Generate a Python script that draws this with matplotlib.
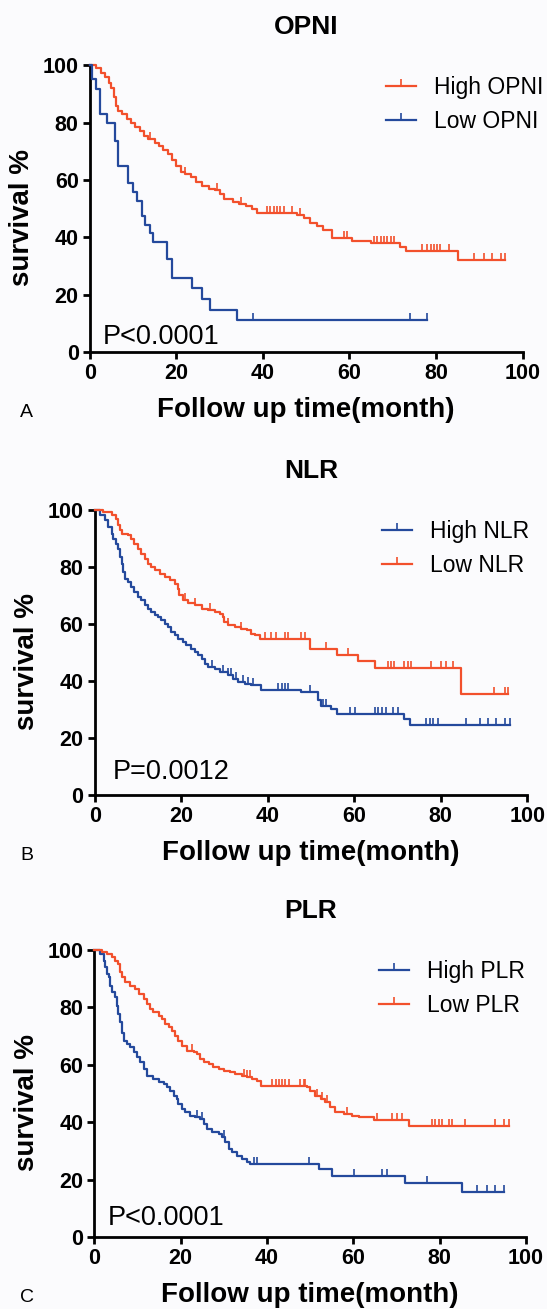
import numpy as np
import matplotlib
matplotlib.use("Agg")
import matplotlib.pyplot as plt
from matplotlib.lines import Line2D

plt.rcParams['font.family'] = ['Liberation Sans', 'DejaVu Sans']

RED = '#f2502c'
BLUE = '#24499c'

# ---- Panel A: OPNI ----
opni_high_t = [0, 1.5, 2.5, 3.5, 4.5, 5, 5.5, 6, 6.5, 7.5, 8.5, 9.5, 10.5, 11.5, 12.5, 13.5, 15, 16, 17, 18,
               19, 20, 21, 22, 23.5, 24.5, 26, 27.5, 29, 30, 31, 33, 34.5, 36, 37.5, 38.6, 47.9, 49.4, 51, 52.5,
               54, 56, 60.6, 64.9, 71.8, 73, 85]
opni_high_s = [100, 99, 97.5, 96, 94, 92, 89, 86, 84, 83, 81.5, 80, 78.5, 77, 75.5, 74.5, 73, 72, 70.5, 69,
               67, 65, 63, 62, 61, 59.5, 58, 57, 56.5, 55, 53.5, 52.5, 51.5, 51, 50, 48.5, 47.9, 46.8, 45, 43.9,
               42.7, 39.8, 38.8, 38, 36.8, 35.3, 32.2]
opni_high_end = 96
opni_high_cens = [14, 22, 29.5, 35, 40.9, 41.7, 42.5, 43.2, 44, 44.8, 46.7, 48.6, 58.7, 59.5, 65.6, 66.4,
                  67.2, 68, 68.8, 69.6, 70.3, 76.8, 78, 78.8, 79.5, 80.3, 81, 83, 88.8, 91.1, 93, 95, 96]

opni_low_t = [0, 0.6, 1.5, 2.3, 3.9, 5.8, 6.6, 8.9, 10, 10.8, 12, 12.7, 13.9, 14.7, 17.8, 18.9, 23.6, 25.9,
              27.8, 34]
opni_low_s = [100, 95.3, 91.8, 83, 80, 73.7, 65, 59, 56, 52.6, 47.4, 44.4, 41.5, 38.5, 32.5, 25.7, 22.2, 18.5,
              14.8, 11.1]
opni_low_end = 78
opni_low_cens = [37.8, 74, 78]

# ---- Panel B: NLR ----
nlr_high_t = [0, 1.2, 2.3, 3.1, 3.9, 4.2, 5, 5.4, 5.8, 6.2, 6.5, 6.9, 7.7, 8.5, 9.2, 10, 10.8, 11.6, 12.3, 13.1,
              13.9, 14.6, 15.4, 16.2, 16.9, 17.7, 18.5, 19.3, 20.4, 21.2, 22.3, 23.1, 23.9, 24.7, 25.4, 26.2,
              27.7, 28.9, 30.8, 32, 33.1, 34.7, 36.2, 38.5, 47.8, 51.6, 52.3, 54.7, 55.9, 71.6, 72.8]
nlr_high_s = [100, 98.2, 96.5, 94.2, 91.8, 90.1, 88.3, 86.5, 83.6, 81.3, 78.4, 76, 74.9, 73.1, 71.3, 69.6, 68.4,
              66.7, 65.5, 64.3, 63.2, 62.6, 61.4, 60.2, 59.1, 57.3, 56.1, 55, 53.8, 52.6, 51.5, 50.3, 49.1, 48,
              46.2, 45, 44.4, 43.3, 42.1, 40.9, 39.8, 39.2, 38.6, 36.8, 36.2, 33.5, 31.5, 30.4, 28.7, 26.9, 24.5]
nlr_high_end = 96
nlr_high_cens = [27, 29.7, 30.8, 31.6, 32.7, 34.3, 35.4, 36.6, 42.4, 43.2, 43.9, 44.7, 49.7, 52.8, 53.5, 58.9,
                 60.1, 64.7, 65.5, 66.3, 67.4, 68.9, 70.1, 76.6, 77.4, 78.2, 79.4, 85.9, 89, 90.9, 92.8, 94.8, 96]

nlr_low_t = [0, 1.9, 3.9, 5, 5.4, 5.8, 6.2, 7.7, 8.5, 9.2, 10, 10.8, 11.6, 12.3, 13.1, 13.9, 15, 16.2, 17.3,
             18.5, 19.3, 19.6, 20.4, 21.6, 23.1, 24.7, 26.2, 27.7, 28.9, 29.7, 30, 30.8, 32.4, 33.9, 35.1, 36.2,
             37, 38.1, 49.7, 55.9, 60.9, 64.7, 84.7]
nlr_low_s = [100, 99.4, 98.2, 97.1, 94.7, 93, 91.8, 91.2, 90.1, 88.3, 86.5, 84.8, 83, 81.3, 80.1, 78.9, 77.8,
             76.6, 75.4, 74.3, 72.5, 70.2, 68.4, 67.3, 66.7, 65.5, 64.9, 64.3, 63.7, 62.6, 60.8, 59.6, 59.1, 58.5,
             57.9, 56.7, 56.1, 55, 51.5, 49.1, 47, 44.8, 35.7]
nlr_low_end = 95.5
nlr_low_cens = [20.8, 23.1, 26.6, 30.8, 33.9, 39.3, 40.8, 42, 43.9, 44.7, 47.8, 48.5, 53.5, 58.6, 67.8, 68.6,
                69.3, 71.6, 72.4, 73.2, 77.8, 80.1, 81.3, 82.8, 92.4, 94.8, 95.5]

# ---- Panel C: PLR ----
plr_high_t = [0, 1.4, 2.2, 2.5, 2.9, 3.3, 3.7, 4.1, 4.9, 5.3, 5.6, 6, 6.4, 6.8, 7.6, 8.3, 9.1, 9.9, 10.7, 11.4,
              12.2, 13.7, 14.9, 16.1, 16.8, 17.6, 18.4, 19.2, 19.5, 20.3, 21.1, 22.2, 23.4, 24.6, 25.3, 26.1,
              27.3, 28.8, 29.6, 30.3, 31.1, 31.9, 33, 34.2, 35.4, 36.1, 52, 55.1, 72, 85.2]
plr_high_s = [100, 98.6, 96.3, 94, 91.6, 90.5, 87.6, 85.3, 83.5, 80.6, 77.7, 74.8, 71.2, 68.4, 67.3, 66.1, 64.4,
              62.6, 60.9, 58.6, 56.3, 55.1, 53.9, 53.4, 52.2, 51, 49.3, 48.1, 46.4, 44.7, 43.5, 42.3, 41.8, 41.2,
              39.4, 37.7, 36.5, 36, 34.8, 33.1, 30.7, 29.6, 28.4, 27.3, 26.1, 25.5, 23.8, 21.5, 18.9, 15.7]
plr_high_end = 95
plr_high_cens = [23.8, 25, 30, 36.9, 37.7, 49.7, 60.1, 66.6, 67.8, 77.1, 88.6, 91, 92.9, 95]

plr_low_t = [0, 1.8, 2.9, 4.1, 4.9, 5.6, 6, 6.4, 7.2, 8.3, 9.5, 10.3, 11.4, 12.2, 13, 13.7, 14.9, 15.7, 16.4,
             17.2, 18, 18.8, 19.5, 20.3, 21.5, 23, 23.8, 24.6, 25.3, 26.5, 27.6, 28.8, 30, 31.5, 32.7, 34.2,
             35.4, 36.5, 37.7, 38.5, 49.3, 50, 51.2, 52.4, 53.5, 54.7, 55.8, 57.8, 59.7, 61.2, 64.7, 72.8]
plr_low_s = [100, 99.2, 98.6, 97.4, 96.3, 95.1, 92.2, 90.5, 88.7, 87.6, 86.4, 84.7, 82.9, 81.2, 79.5, 78.3, 77.1,
             76, 74.2, 73.1, 71.9, 70.2, 68.4, 66.7, 65, 64.4, 63.8, 62.1, 60.9, 60.3, 59.2, 58.6, 58, 57.4,
             56.8, 56.3, 55.7, 55.1, 54.5, 52.8, 52.2, 51, 49.3, 48.1, 47, 45.2, 43.5, 42.9, 42.3, 41.8, 41, 38.9]
plr_low_end = 96
plr_low_cens = [22.6, 34.6, 35.4, 36.1, 41.2, 42, 42.7, 43.5, 44.2, 45, 47.7, 48.5, 48.9, 51.6, 52.7, 53.9,
                58.5, 65.5, 69, 70.1, 71.3, 78.2, 79, 79.8, 80.5, 82.1, 82.9, 85.9, 92.9, 94.8, 96]

W, H = 547, 1309
fig = plt.figure(figsize=(W / 100, H / 100), dpi=100, facecolor='#fbfbfd')


def px(x, y):
    return x / W, 1 - y / H


def km_curve(ax, t, s, end, cens, color):
    t = np.append(np.array(t, float), end)
    s = np.append(np.array(s, float), s[-1])
    ax.step(t, s, where='post', color=color, lw=1.6, clip_on=False, zorder=3)
    cens = np.array(cens, float)
    cy = s[np.searchsorted(t, cens, side='right') - 1]
    ax.plot(cens, cy, ls='none', marker=2, ms=4.8, mew=1.2, color=color, clip_on=False, zorder=3)


panels = [
    dict(title='OPNI', box=(89.8, 522.5, 65.5, 352.0), letter='A', ptext='P<0.0001', ppos=(2.9, 2.8),
         curves=[('High OPNI', opni_high_t, opni_high_s, opni_high_end, opni_high_cens, RED),
                 ('Low OPNI', opni_low_t, opni_low_s, opni_low_end, opni_low_cens, BLUE)],
         leg=(386, 76)),
    dict(title='NLR', box=(94.7, 527.3, 510.3, 795.3), letter='B', ptext='P=0.0012', ppos=(4.2, 5.6),
         curves=[('High NLR', nlr_high_t, nlr_high_s, nlr_high_end, nlr_high_cens, BLUE),
                 ('Low NLR', nlr_low_t, nlr_low_s, nlr_low_end, nlr_low_cens, RED)],
         leg=(382, 520)),
    dict(title='PLR', box=(94.3, 526.0, 950.0, 1237.3), letter='C', ptext='P<0.0001', ppos=(3.1, 4.4),
         curves=[('High PLR', plr_high_t, plr_high_s, plr_high_end, plr_high_cens, BLUE),
                 ('Low PLR', plr_low_t, plr_low_s, plr_low_end, plr_low_cens, RED)],
         leg=(379, 960)),
]

for p in panels:
    x0, x1, ytop, ybot = p['box']
    ax = fig.add_axes([x0 / W, 1 - ybot / H, (x1 - x0) / W, (ybot - ytop) / H])
    ax.set_facecolor('none')
    for name, t, s, end, cens, color in p['curves']:
        km_curve(ax, t, s, end, cens, color)
    ax.set_xlim(0, 100)
    ax.set_ylim(0, 100)
    ax.set_xticks([0, 20, 40, 60, 80, 100])
    ax.set_yticks([0, 20, 40, 60, 80, 100])
    for side in ['top', 'right']:
        ax.spines[side].set_visible(False)
    for side in ['left', 'bottom']:
        ax.spines[side].set_linewidth(2)
    ax.tick_params(direction='out', length=5, width=2, labelsize=15.5, pad=3)
    for lab in ax.get_xticklabels() + ax.get_yticklabels():
        lab.set_fontweight('bold')
    ax.set_xlabel('Follow up time(month)', fontsize=20, fontweight='bold', labelpad=9)
    ax.set_ylabel('survival %', fontsize=20, fontweight='bold')
    ax.yaxis.set_label_coords(-0.126, 0.47)
    ax.set_title(p['title'], fontsize=19, fontweight='bold', pad=23)
    ax.text(p['ppos'][0], p['ppos'][1], p['ptext'], fontsize=19.5, va='baseline', ha='left')
    handles = [Line2D([], [], color=c[5], lw=1.6, marker=2, ms=4.8, mew=1.2) for c in p['curves']]
    ax.legend(handles, [c[0] for c in p['curves']], loc='upper left', bbox_to_anchor=px(*p['leg']),
              bbox_transform=fig.transFigure, frameon=False, fontsize=16.5, borderpad=0, borderaxespad=0,
              handlelength=1.3, handletextpad=0.8, labelspacing=0.5, numpoints=1)
    fig.text(*px(20, ybot + 65), p['letter'], fontsize=14, ha='left', va='baseline')

fig.savefig('out.png', dpi=100, facecolor=fig.get_facecolor())
